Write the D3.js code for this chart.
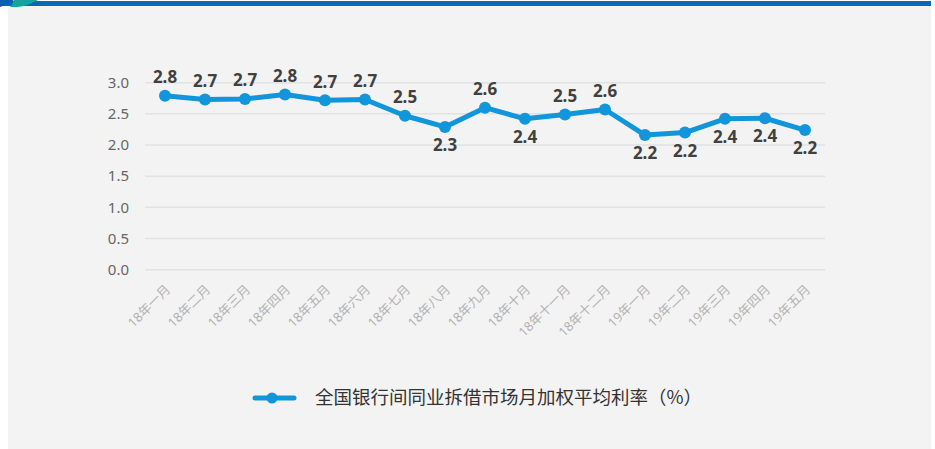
<!DOCTYPE html>
<meta charset="utf-8">
<style>
body { margin: 0; background: #fff; }
.grid line { stroke: #e2e2e2; stroke-width: 1.5px; }
.ylab { font: 15px "Noto Sans", "Open Sans", sans-serif; fill: #666; }
.xlab { font: 13px "Noto Sans", "Noto Sans CJK SC", sans-serif; fill: #b3b3b3; }
.vlab { font: bold 17px "Noto Sans", "Open Sans", sans-serif; fill: #404040; }
.legend text { font: 18.5px "Noto Sans CJK SC", sans-serif; fill: #333; }
</style>
<body>
<script src="https://d3js.org/d3.v7.min.js"></script>
<script>

var months = ["18年一月", "18年二月", "18年三月", "18年四月", "18年五月", "18年六月",
  "18年七月", "18年八月", "18年九月", "18年十月", "18年十一月", "18年十二月",
  "19年一月", "19年二月", "19年三月", "19年四月", "19年五月"];
var rates = [2.79, 2.73, 2.74, 2.81, 2.72, 2.73, 2.47, 2.29, 2.60, 2.42, 2.49, 2.57,
  2.16, 2.20, 2.42, 2.43, 2.24];
// which labels sit under the point
var labelsBelow = [7, 9, 12, 13, 14, 15, 16];
var yTicks = [0, 0.5, 1.0, 1.5, 2.0, 2.5, 3.0];
var seriesName = "全国银行间同业拆借市场月加权平均利率（%）";

var width = 935, height = 449;
var blue = "#1296db";

var svg = d3.select("body").append("svg")
    .attr("width", width)
    .attr("height", height);

// panel + top bar
svg.append("rect").attr("x", 8).attr("y", 6).attr("width", 923).attr("height", height - 6)
    .attr("fill", "#f3f3f3");
svg.append("rect").attr("x", 0).attr("y", 1).attr("width", 931).attr("height", 5)
    .attr("fill", "#0b68b5");
svg.append("path").attr("d", "M0,0 L14,0 C10,3 6,5 0,7 Z").attr("fill", "#0b5fb0");
svg.append("path").attr("d", "M14,0 L38,0 C34,2 30,4 24,6 C20,7 14,7 10,7 C12,5 13,3 14,0 Z")
    .attr("fill", "#14a59a");

var x = d3.scaleBand().domain(months).range([145, 825]);
var y = d3.scaleLinear().domain([0, 3]).range([269.7, 82.7]);
var cx = function(d, i) { return x(months[i]) + x.bandwidth() / 2; };

var grid = svg.append("g").attr("class", "grid");
grid.selectAll("line").data(yTicks).enter().append("line")
    .attr("x1", 145).attr("x2", 825)
    .attr("y1", function(d) { return y(d); })
    .attr("y2", function(d) { return y(d); });

svg.append("g").selectAll("text").data(yTicks).enter().append("text")
    .attr("class", "ylab")
    .attr("x", 129)
    .attr("y", function(d) { return y(d); })
    .attr("dy", "0.35em")
    .attr("text-anchor", "end")
    .text(function(d) { return d.toFixed(1); });

svg.append("g").selectAll("text").data(months).enter().append("text")
    .attr("class", "xlab")
    .attr("text-anchor", "end")
    .attr("dy", "0.35em")
    .attr("transform", function(d) {
      return "translate(" + (x(d) + x.bandwidth() / 2 + 3) + ",287) rotate(-45)";
    })
    .text(function(d) { return d; });

var line = d3.line()
    .x(cx)
    .y(function(d) { return y(d); });

svg.append("path").datum(rates)
    .attr("d", line)
    .attr("fill", "none")
    .attr("stroke", blue)
    .attr("stroke-width", 5)
    .attr("stroke-linejoin", "round");

svg.append("g").selectAll("circle").data(rates).enter().append("circle")
    .attr("cx", cx)
    .attr("cy", function(d) { return y(d); })
    .attr("r", 6)
    .attr("fill", blue);

svg.append("g").selectAll("text").data(rates).enter().append("text")
    .attr("class", "vlab")
    .attr("text-anchor", "middle")
    .attr("x", cx)
    .attr("y", function(d, i) {
      return labelsBelow.indexOf(i) >= 0 ? y(d) + 24 : y(d) - 12.5;
    })
    .text(function(d) { return d.toFixed(1); });

// legend
var lg = svg.append("g").attr("class", "legend");
lg.append("line").attr("x1", 255).attr("x2", 294).attr("y1", 398).attr("y2", 398)
    .attr("stroke", blue).attr("stroke-width", 5).attr("stroke-linecap", "round");
lg.append("circle").attr("cx", 272).attr("cy", 398).attr("r", 5.5).attr("fill", blue);
lg.append("text").attr("x", 315).attr("y", 398).attr("dy", "0.35em").text(seriesName);

</script>
</body>
